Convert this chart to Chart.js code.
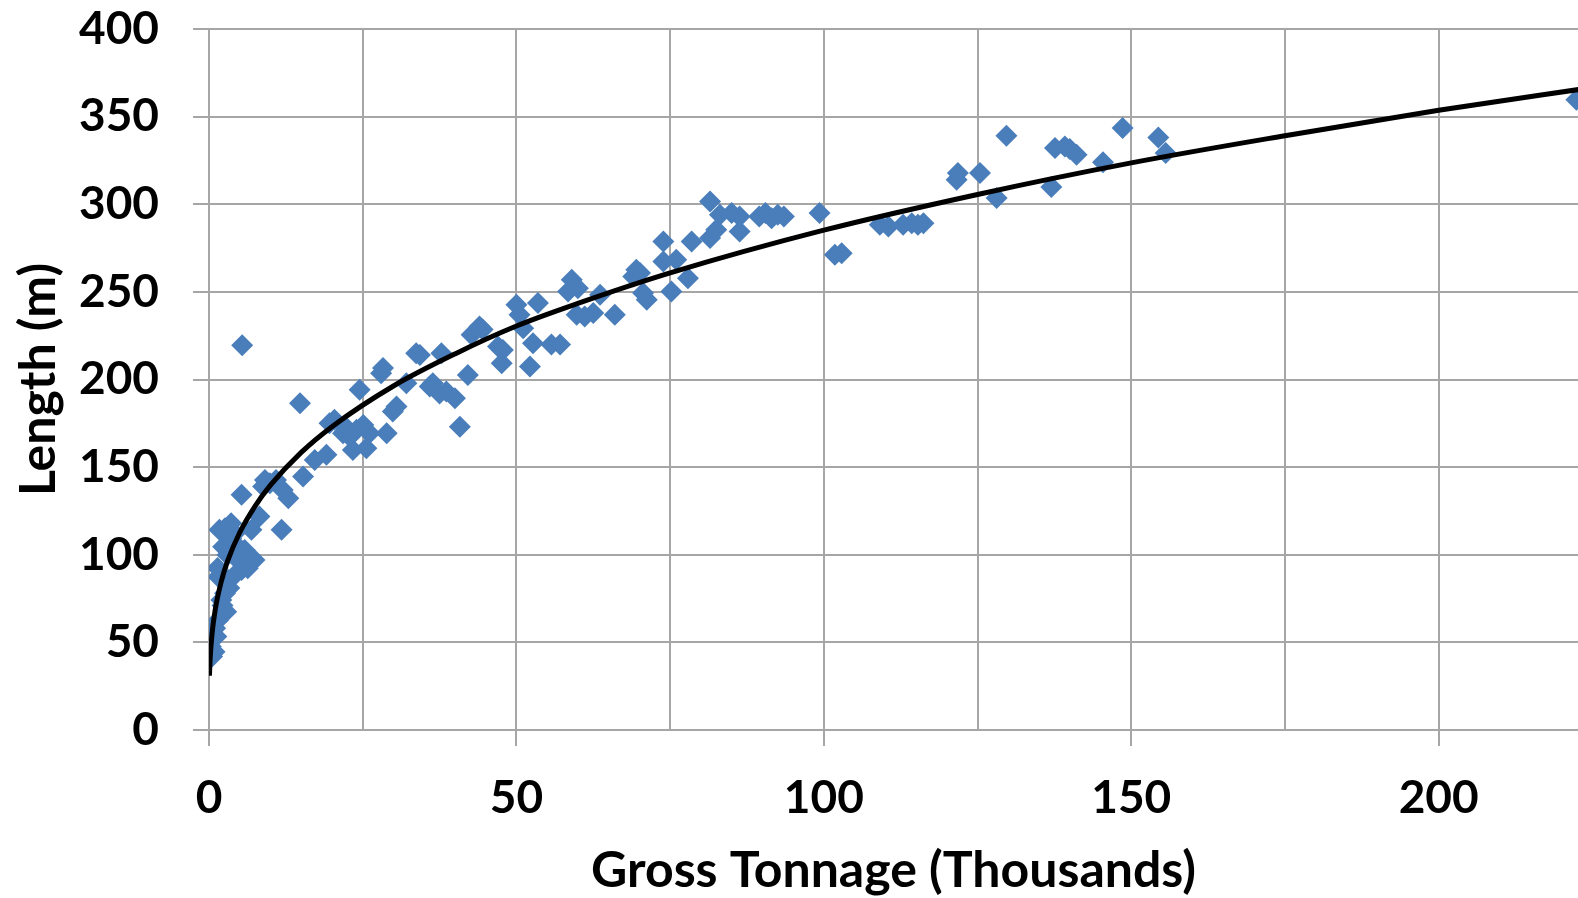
<!DOCTYPE html>
<html><head><meta charset="utf-8">
<script src="https://cdn.jsdelivr.net/npm/chart.js@4.4.1/dist/chart.umd.min.js"></script>
<style>html,body{margin:0;padding:0;background:#fff;overflow:hidden}</style>
</head><body>
<canvas id="c" width="1578" height="898"></canvas>
<script>
// Scatter data: gross tonnage (thousands) vs length (m)
const grossTonnage = [0.3,0.3,0.9,0.5,1.2,1.5,2.8,2.0,2.6,1.5,
  3.1,4.2,1.4,5.3,6.3,4.7,7.4,3.0,5.8,2.3,
  4.7,3.6,4.2,1.7,2.6,3.6,6.9,8.2,11.8,5.3,
  8.8,9.9,12.0,12.9,15.3,17.2,19.1,21.8,20.4,22.4,
  22.9,23.4,25.6,19.6,25.1,24.0,26.1,28.9,29.9,30.5,
  24.5,28.0,28.3,14.8,5.4,32.1,33.7,35.9,37.5,36.4,
  38.6,40.0,40.8,37.8,34.3,42.1,42.7,44.0,47.0,47.8,
  47.6,50.0,50.5,51.1,52.2,52.7,53.5,55.7,57.1,58.4,
  59.0,59.8,61.1,62.5,63.6,66.0,69.0,69.5,70.1,70.6,
  71.2,73.9,76.0,77.9,75.2,73.9,78.5,81.5,82.5,81.5,
  83.1,85.0,86.3,86.3,89.5,90.5,91.5,92.5,93.5,99.3,
  101.8,102.9,109.1,110.5,112.9,114.3,115.3,116.2,121.6,121.8,
  125.4,128.1,129.7,137.0,137.6,139.2,140.0,141.1,145.4,148.6,
  154.4,155.6,222.4,
  1.0,2.2,3.3,9.1,10.9,44.5,60.0];
const lengthM = [56,47.6,44.7,42,53.3,62.8,67.5,74.2,78,87.5,
  85.6,88.5,92.5,91.3,92.3,97,97,99.9,102.7,104.6,
  104.6,109.4,112.3,114.2,115.1,118,114.2,121.8,114.2,134.2,
  138.9,140.8,137,132.3,144.6,154.1,157,169.4,177,172.2,
  167.4,159.8,160.8,175.1,174.1,171.3,169.4,169.4,181.7,184.6,
  194.1,203.6,206.5,186.5,219.5,197.9,215,196,192,197.9,
  193.1,189.3,173.1,215,214,202.6,225.5,230.2,218.8,216.9,
  209.3,242.6,236.9,229.3,207.4,220.7,243.6,220,220,250.2,
  256.9,237,236,237.9,248.3,236.9,258.8,262.6,260.7,249.3,
  245.5,267.3,268.3,257.8,250.2,278.7,278.7,280.7,285.4,301.6,
  294,295,293,284.5,293,295,292,294,293,295,
  271.2,272.1,288.3,287.3,288.3,289.2,288.3,289.2,314,317.8,
  317.8,303.5,339.1,309.8,332.1,333,331.5,328.2,324,343.5,
  338.1,329.2,359.6,
  58,71,81,142.7,142.7,228.5,252];

// Trend line
const trendX = [0.07,0.2,0.5,1,2,3,5,7.5,10,15,20,30,40,50,60,75,100,125,150,175,200,225];
const trendY = [31,41.5,55,68.4,84.8,96.2,112.7,127.8,139.7,158.4,173.1,196.3,214.6,230.5,243.4,260.8,285.2,305.6,323.6,339.1,353.6,366.6];

// Axes
const xGridValues = [0,25,50,75,100,125,150,175,200];
const xTickLabels = ['0','50','100','150','200'];
const yTickValues = [0,50,100,150,200,250,300,350,400];
const xTitle = 'Gross Tonnage (Thousands)';
const yTitle = 'Length (m)';

const scatterPts = grossTonnage.map((x, i) => ({x: x, y: lengthM[i]}));
const trendPts = trendX.map((x, i) => ({x: x, y: trendY[i]}));

const gridColor = '#a6a6a6';
const tickFont = {family: 'Lato', weight: 'bold', size: 46};
const titleFont = {family: 'Lato', weight: 'bold', size: 50, lineHeight: 1.1};

function draw() {
  new Chart(document.getElementById('c'), {
    type: 'scatter',
    data: {
      datasets: [
        {
          data: trendPts, showLine: true, pointRadius: 0, borderColor: '#000',
          borderWidth: 5, cubicInterpolationMode: 'monotone', fill: false
        },
        {
          data: scatterPts, pointStyle: 'rectRot', pointRadius: 11,
          backgroundColor: '#4A7EBB', borderWidth: 0, pointHoverRadius: 11
        }
      ]
    },
    options: {
      responsive: false,
      animation: false,
      layout: {autoPadding: false, padding: {top: 29, left: 0, right: 0, bottom: 0}},
      plugins: {legend: {display: false}, tooltip: {enabled: false}},
      scales: {
        x: {
          type: 'linear', min: 0, max: 222.66,
          afterBuildTicks: s => { s.ticks = xGridValues.map(v => ({value: v})); },
          afterFit: s => { s.height = 168; s.paddingLeft = 0; s.paddingRight = 0; },
          ticks: {
            autoSkip: false, maxRotation: 0, padding: 25, color: '#000', font: tickFont,
            callback: v => xTickLabels.includes(String(v)) ? String(v) : ''
          },
          grid: {
            color: gridColor, lineWidth: 2, tickLength: 16,
            tickColor: ctx => (ctx.tick && xTickLabels.includes(String(ctx.tick.value))) ? gridColor : 'rgba(0,0,0,0)'
          },
          border: {color: gridColor, width: 2},
          title: {display: true, text: xTitle, color: '#000', font: titleFont, padding: {top: 0, bottom: 0}}
        },
        y: {
          type: 'linear', min: 0, max: 400,
          afterBuildTicks: s => { s.ticks = yTickValues.map(v => ({value: v})); },
          afterFit: s => { s.width = 209; s.paddingTop = 0; s.paddingBottom = 0; },
          ticks: {padding: 34, color: '#000', font: tickFont},
          grid: {color: gridColor, lineWidth: 2, tickLength: 16, tickColor: gridColor},
          border: {color: gridColor, width: 2},
          title: {display: true, text: yTitle, color: '#000', font: titleFont, padding: {top: 11, bottom: 0}}
        }
      }
    }
  });
}
if (document.fonts && document.fonts.load) {
  Promise.all([document.fonts.load('bold 46px Lato'), document.fonts.load('bold 50px Lato')]).then(draw, draw);
} else { draw(); }
</script>
</body></html>
